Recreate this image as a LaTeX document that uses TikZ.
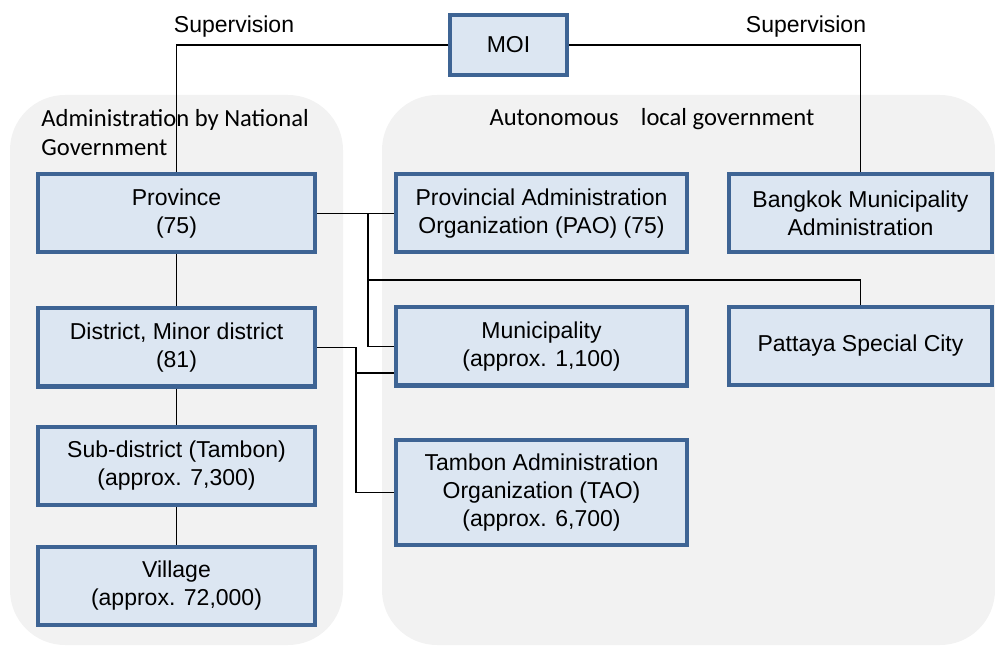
\documentclass[tikz,border=0pt]{standalone}
\usepackage{fontspec}
\setmainfont{Liberation Sans}
\newfontfamily\panelfont{Carlito}
\definecolor{boxfill}{HTML}{DCE6F2}
\definecolor{boxline}{HTML}{3E6494}
\definecolor{panelgray}{HTML}{F2F2F2}
\tikzset{
  orgbox/.style={draw=boxline, line width=2pt, fill=boxfill, align=center, inner sep=0pt,
    minimum height=39pt, font=\fontsize{11.5}{14}\selectfont},
  leftcol/.style={orgbox, minimum width=138.5pt},
  midcol/.style={orgbox, minimum width=145.5pt},
  rightcol/.style={orgbox, minimum width=131.5pt},
  link/.style={line width=0.75pt},
  panel/.style={fill=panelgray, rounded corners=27.5pt},
  panellabel/.style={font=\panelfont\fontsize{12.3}{14.5}\selectfont, align=left, inner sep=0pt},
  toplabel/.style={font=\fontsize{11.5}{14}\selectfont, inner sep=0pt},
}
\begin{document}
\begin{tikzpicture}[x=0.5pt,y=-0.5pt]
\useasboundingbox (0,0) rectangle (995,646);
\fill[panel] (10,95) rectangle (343,645);
\fill[panel] (382,95) rectangle (995,645);
\node[panellabel, anchor=west] (natlabel) at (41,133) {Administration by National\\Government};
\node[panellabel] (autlabel) at (652,119) {Autonomous\hspace{0.9em}local government};
\node[toplabel] (supleft) at (234,27) {Supervision};
\node[toplabel] (supright) at (806,27) {Supervision};

\node[orgbox, minimum width=58.5pt, minimum height=30pt] (moi) at (508.5,45) {MOI};
\node[leftcol] (prov) at (176.5,213.5) {Province\\(75)};
\node[leftcol] (dist) at (176.5,347.5) {District, Minor district\\(81)};
\node[leftcol] (sub) at (176.5,466) {Sub-district (Tambon)\\(approx. 7,300)};
\node[leftcol] (vill) at (176.5,585.5) {Village\\(approx. 72,000)};
\node[midcol] (pao) at (541.5,213.5) {Provincial Administration\\Organization (PAO) (75)};
\node[midcol] (muni) at (541.5,346.5) {Municipality\\(approx. 1,100)};
\node[midcol, minimum height=52.5pt] (tao) at (541.5,492.5) {Tambon Administration\\Organization (TAO)\\(approx. 6,700)};
\node[rightcol] (bkk) at (860.5,213.5) {Bangkok Municipality\\Administration};
\node[rightcol] (pat) at (860.5,346) {Pattaya Special City};

\coordinate (jprov) at (368,213.5);
\coordinate (jpat) at (368,280);
\coordinate (jdist) at (356,347.5);
\coordinate (jmuni) at (356,373);

\draw[link] (moi.west) -| (prov.north);
\draw[link] (moi.east) -| (bkk.north);
\draw[link] (prov.south) -- (dist.north);
\draw[link] (dist.south) -- (sub.north);
\draw[link] (sub.south) -- (vill.north);
\draw[link] (prov.east) -- (pao.west);
\draw[link] (jprov) |- (muni.west);
\draw[link] (jpat) -| (pat.north);
\draw[link] (dist.east) -- (jdist) |- (tao.west);
\draw[link] (jmuni) -- (jmuni -| muni.west);
\end{tikzpicture}
\end{document}
